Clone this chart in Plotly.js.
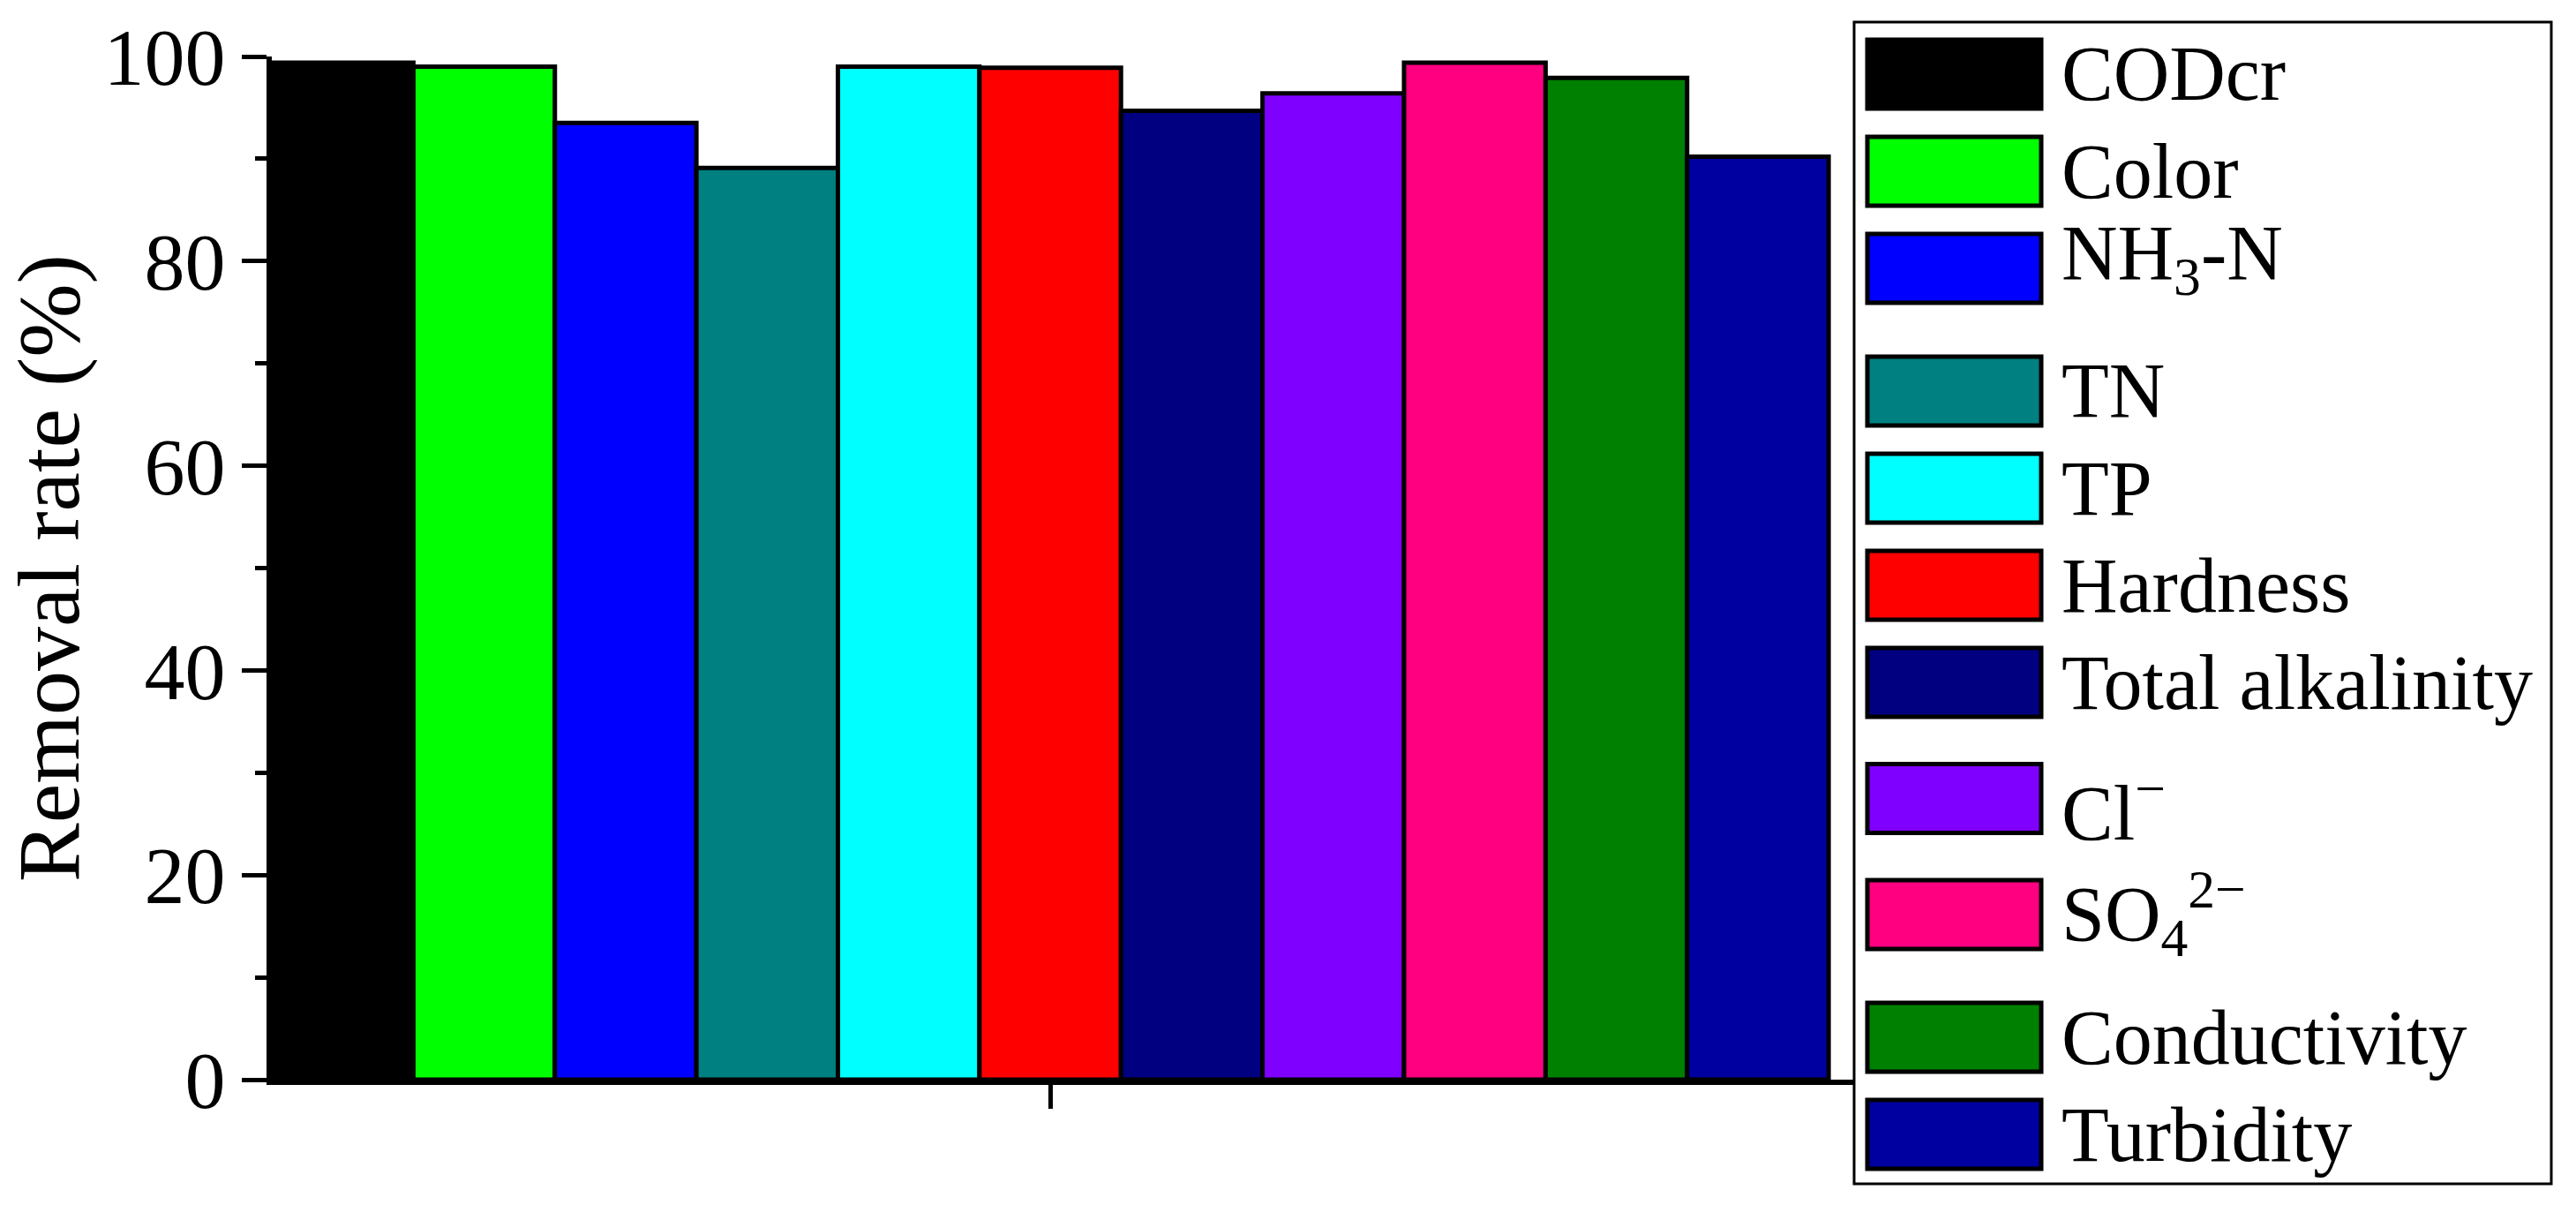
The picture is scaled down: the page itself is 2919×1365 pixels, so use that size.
<!DOCTYPE html>
<html>
<head>
<meta charset="utf-8">
<script src="https://cdn.plot.ly/plotly-3.0.1.min.js"></script>
<style>html,body{margin:0;padding:0;background:#fff;}#chart{width:2919px;height:1365px;}</style>
</head>
<body>
<div id="chart"></div>
<script>
// ---- data ----
const groupPositions = [0];
const seriesNames = ['CODcr', 'Color', 'NH<sub>3</sub>-N', 'TN', 'TP', 'Hardness',
  'Total alkalinity', 'Cl<sup>−</sup>', 'SO<sub>4</sub><sup>2−</sup>', 'Conductivity', 'Turbidity'];
const removalRate = [99.4, 99.0, 93.5, 89.1, 99.0, 98.9, 94.7, 96.4, 99.4, 97.9, 90.2];
const seriesColors = ['#000000', '#00FF00', '#0000FF', '#008080', '#00FFFF', '#FF0000',
  '#000080', '#8000FF', '#FF0080', '#008000', '#0000A0'];
const yTickValues = [0, 20, 40, 60, 80, 100];
const yTickLabels = ['0', '20', '40', '60', '80', '100'];

// ---- layout geometry ----
const W = 2919, H = 1365;
const M = {l: 308, r: 819, t: 64, b: 142};
const plotW = W - M.l - M.r, plotH = H - M.t - M.b;
const px2x = px => (px - M.l) / plotW;
const py2y = py => (H - M.b - py) / plotH;
const FONT = 'Liberation Serif, Times New Roman, serif';

const traces = seriesNames.map((name, i) => ({
  type: 'bar',
  name: name,
  x: groupPositions,
  y: [removalRate[i]],
  marker: {color: seriesColors[i], line: {color: '#000', width: 5}},
  showlegend: false,
  hoverinfo: 'name+y'
}));

// custom legend (large swatches like the original)
const shapes = [];
const annotations = [];
shapes.push({type: 'rect', xref: 'paper', yref: 'paper',
  x0: px2x(2101), x1: px2x(2891), y0: py2y(25), y1: py2y(1341),
  line: {color: '#000', width: 3}, fillcolor: 'rgba(0,0,0,0)', layer: 'above'});
let cy = 84;
seriesNames.forEach((name, i) => {
  if (i > 0) {
    cy += 110;
    if (seriesNames[i - 1].includes('<sub>')) cy += 29;
    if (name.includes('<sup>')) cy += 21.5;
  }
  shapes.push({type: 'rect', xref: 'paper', yref: 'paper',
    x0: px2x(2116), x1: px2x(2313), y0: py2y(cy - 39), y1: py2y(cy + 39),
    fillcolor: seriesColors[i], line: {color: '#000', width: 5}, layer: 'above'});
  let shift = 0;
  if (name.includes('<sub>')) shift += 12;
  if (name.includes('<sup>')) shift -= 10;
  annotations.push({xref: 'paper', yref: 'paper', x: px2x(2334), y: py2y(cy),
    xanchor: 'left', yanchor: 'middle', yshift: shift, showarrow: false, text: name,
    font: {family: FONT, size: 88, color: '#000'}});
});

const layout = {
  width: W, height: H,
  margin: M,
  paper_bgcolor: '#fff', plot_bgcolor: '#fff',
  barmode: 'group', bargap: 0, bargroupgap: 0,
  font: {family: FONT, color: '#000'},
  xaxis: {
    range: [-0.5, 0.5158], showline: true, linecolor: '#000', linewidth: 6,
    showgrid: false, zeroline: false, tickmode: 'array', tickvals: groupPositions, ticktext: [''],
    ticks: 'outside', ticklen: 27, tickwidth: 5, tickcolor: '#000', fixedrange: true
  },
  yaxis: {
    range: [0, 100], showline: true, linecolor: '#000', linewidth: 6,
    showgrid: false, zeroline: false, tickmode: 'array', tickvals: yTickValues, ticktext: yTickLabels,
    ticks: 'outside', ticklen: 28, tickwidth: 5, tickcolor: '#000',
    minor: {dtick: 10, tick0: 0, ticks: 'outside', ticklen: 13, tickwidth: 5, tickcolor: '#000', showgrid: false},
    tickfont: {family: FONT, size: 92, color: '#000'},
    title: {text: 'Removal rate (%)', font: {family: FONT, size: 100, color: '#000'}, standoff: 14},
    fixedrange: true
  },
  shapes: shapes,
  annotations: annotations,
  showlegend: false
};

Plotly.newPlot('chart', traces, layout, {displayModeBar: false, staticPlot: true});
</script>
</body>
</html>
